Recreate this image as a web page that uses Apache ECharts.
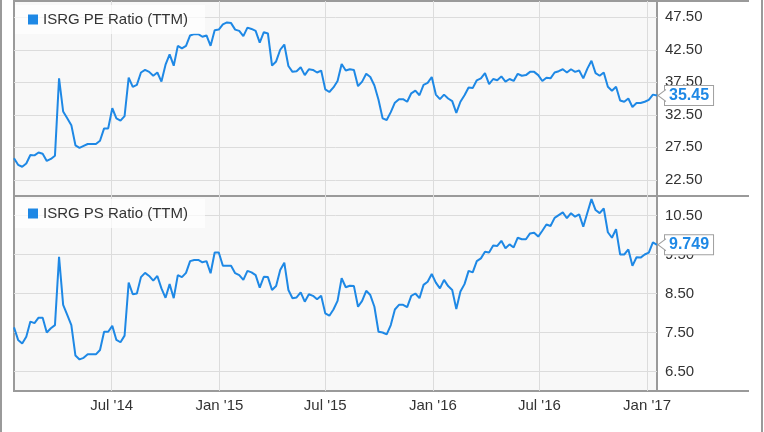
<!DOCTYPE html>
<html>
<head>
<meta charset="utf-8">
<script src="https://cdn.jsdelivr.net/npm/echarts@6/dist/echarts.min.js"></script>
<style>
html,body{margin:0;padding:0;background:#fff;}
#chart{width:764px;height:432px;}
</style>
</head>
<body>
<div id="chart"></div>
<script>
// ---- data ----
const seriesNames = ['ISRG PE Ratio (TTM)', 'ISRG PS Ratio (TTM)'];
const firstWeek = '2014-01-15';      // first weekly observation
const axisStart = '2014-01-15';
const axisEnd = '2017-01-18';
const xTickDates = ['2014-07-01', '2015-01-01', '2015-07-01', '2016-01-01', '2016-07-01', '2017-01-01'];
const peTicks = [22.5, 27.5, 32.5, 37.5, 42.5, 47.5];
const psTicks = [6.5, 7.5, 8.5, 9.5, 10.5];
const peRange = [20, 50];
const psRange = [6, 11];

const peRatio = [
  25.8, 24.8, 24.5, 25.0, 26.3, 26.25, 26.7, 26.5, 25.4, 25.7,
  26.2, 38.1, 33.0, 31.95, 30.9, 27.8, 27.4, 27.7, 28.0, 28.0,
  28.0, 28.5, 30.4, 30.4, 33.5, 31.95, 31.6, 32.3, 38.2, 36.8,
  37.1, 39.0, 39.4, 39.1, 38.5, 39.0, 37.6, 40.2, 41.8, 40.05,
  43.1, 42.7, 43.1, 44.7, 44.9, 44.9, 44.5, 44.7, 43.1, 45.5,
  45.6, 46.4, 46.7, 46.6, 45.6, 45.4, 44.6, 45.9, 45.7, 45.4,
  43.6,
  45.2, 45.0, 40.05, 40.7, 42.5, 43.3, 40.0, 39.1, 39.2, 39.8,
  38.6, 39.5, 39.4, 39.0, 39.3, 36.4, 36.0, 36.7, 37.7, 40.3,
  39.3, 39.5, 39.4, 36.9, 37.6, 38.8, 38.3, 37.0, 34.8, 31.95,
  31.7, 32.9, 34.35, 34.9, 34.9, 34.5, 35.8, 36.2, 35.5, 37.1,
  37.4, 38.3, 35.6, 34.9, 35.6, 35.0, 34.6, 32.8, 34.5, 35.5,
  36.7, 36.6, 37.8, 38.1, 38.9, 37.2, 38.0, 37.8, 38.4, 37.6,
  38.0,
  37.7, 38.8, 38.5, 38.6, 39.1, 39.1, 38.6, 37.7, 38.2, 38.1,
  39.0, 39.2, 39.5, 39.0, 39.5, 39.1, 39.3, 38.1, 39.6, 40.8,
  38.9, 38.5, 39.0, 36.8, 36.2, 36.8, 34.7, 34.5, 35.0, 33.7,
  34.3, 34.3, 34.5, 34.8, 35.6, 35.45
];

const psRatio = [
  7.63, 7.31, 7.22, 7.39, 7.78, 7.74, 7.88, 7.88, 7.50, 7.61,
  7.69, 9.44, 8.21, 7.95, 7.69, 6.91, 6.81, 6.85, 6.94, 6.94,
  6.94, 7.05, 7.52, 7.52, 7.67, 7.31, 7.25, 7.42, 8.78, 8.48,
  8.50, 8.92, 9.03, 8.95, 8.83, 8.95, 8.63, 8.39, 8.74, 8.38,
  8.97, 8.92, 9.03, 9.33, 9.36, 9.36, 9.30, 9.33, 9.02, 9.55,
  9.55, 9.21, 9.21, 9.21, 9.02, 8.97, 8.85, 9.08, 9.04, 8.97,
  8.65,
  8.93, 8.92, 8.59, 8.69, 9.10, 9.29, 8.59, 8.38, 8.40, 8.53,
  8.29, 8.48, 8.44, 8.35, 8.44, 7.99, 7.93, 8.09, 8.31, 8.89,
  8.66, 8.70, 8.69, 8.16, 8.31, 8.57, 8.46, 8.16, 7.52, 7.50,
  7.45, 7.69, 8.09, 8.21, 8.21, 8.15, 8.44, 8.50, 8.38, 8.72,
  8.80, 9.00, 8.78, 8.63, 8.85, 8.69, 8.59, 8.10, 8.55, 8.74,
  9.08, 9.04, 9.33, 9.40, 9.57, 9.55, 9.73, 9.72, 9.85, 9.66,
  9.76,
  9.68, 9.93, 9.89, 9.89, 10.04, 10.06, 9.96, 10.11, 10.27, 10.23,
  10.44, 10.51, 10.58, 10.43, 10.56, 10.47, 10.53, 10.21, 10.57, 10.92,
  10.64, 10.56, 10.68, 10.07, 9.93, 10.15, 9.50, 9.50, 9.63, 9.21,
  9.43, 9.42, 9.50, 9.55, 9.81, 9.749
];

// ---- helpers ----
function parseDay(s) { const p = s.split('-').map(Number); return new Date(p[0], p[1] - 1, p[2]).getTime(); }
const startTs = parseDay(firstWeek);
function weekDate(i) { const d = new Date(startTs); d.setDate(d.getDate() + 7 * i); return d.getTime(); }
const peData = peRatio.map((v, i) => [weekDate(i), v]);
const psData = psRatio.map((v, i) => [weekDate(i), v]);
const xTicks = xTickDates.map(parseDay);
const MONTHS = ['Jan','Feb','Mar','Apr','May','Jun','Jul','Aug','Sep','Oct','Nov','Dec'];
function fmtDate(v) { const d = new Date(v); return MONTHS[d.getMonth()] + " '" + String(d.getFullYear()).slice(2); }

const FONT = '"Liberation Sans", Arial, Helvetica, sans-serif';
const BLUE = '#1e88e5';
const GRIDC = '#dcdcdc';
const FRAME = '#9a9a9a';

function xAxisFor(idx, showLabels) {
  return {
    type: 'value', gridIndex: idx, min: parseDay(axisStart), max: parseDay(axisEnd),
    axisLine: { show: false },
    axisTick: { show: false, customValues: xTicks },
    axisLabel: { show: showLabels, customValues: xTicks, formatter: fmtDate, color: '#333', fontSize: 15, fontFamily: FONT, margin: 7 },
    splitLine: { show: true, lineStyle: { color: GRIDC, width: 1 } }
  };
}
function yAxisFor(idx, range, ticks, digits) {
  return {
    type: 'value', gridIndex: idx, position: 'right', min: range[0], max: range[1],
    axisLine: { show: false },
    axisTick: { show: false, customValues: ticks },
    axisLabel: { customValues: ticks, formatter: v => v.toFixed(digits), color: '#333', fontSize: 15, fontFamily: FONT, margin: 8 },
    splitLine: { show: true, lineStyle: { color: GRIDC, width: 1 } }
  };
}
function lineSeries(name, data, idx, lastText) {
  const last = data[data.length - 1];
  return {
    name: name, type: 'line', xAxisIndex: idx, yAxisIndex: idx, data: data,
    showSymbol: false, symbol: 'none',
    lineStyle: { color: BLUE, width: 2 }, itemStyle: { color: BLUE },
    endLabel: {
      show: true, formatter: () => lastText, color: BLUE, fontWeight: 'bold', fontSize: 16, fontFamily: FONT,
      backgroundColor: '#fff', borderColor: '#a0a0a0', borderWidth: 1, padding: [2, 4, 1, 4], distance: 8
    },
    markPoint: {
      silent: true, animation: false,
      symbol: 'path://M10,0 L0,6 L10,12', symbolSize: [8, 12], symbolOffset: [5, 0], symbolKeepAspect: false,
      itemStyle: { color: '#fff', borderColor: '#a0a0a0', borderWidth: 1 },
      label: { show: false },
      data: [{ coord: last }]
    }
  };
}
function legendFor(name, top) {
  return {
    data: [name], left: 15, top: top, orient: 'horizontal', selectedMode: false,
    icon: 'rect', itemWidth: 10, itemHeight: 10,
    backgroundColor: 'rgba(255,255,255,0.7)', padding: [7, 17, 7, 13],
    textStyle: { color: '#333', fontSize: 15, fontFamily: FONT }
  };
}

const chart = echarts.init(document.getElementById('chart'), null, { renderer: 'canvas' });
chart.setOption({
  animation: false,
  backgroundColor: '#fff',
  grid: [
    { left: 14, top: 1, width: 643, height: 195, show: true, backgroundColor: '#f8f8f8', borderColor: FRAME, borderWidth: 2 },
    { left: 14, top: 196, width: 643, height: 195, show: true, backgroundColor: '#f8f8f8', borderColor: FRAME, borderWidth: 2 }
  ],
  xAxis: [xAxisFor(0, false), xAxisFor(1, true)],
  yAxis: [yAxisFor(0, peRange, peTicks, 2), yAxisFor(1, psRange, psTicks, 2)],
  legend: [legendFor(seriesNames[0], 5), legendFor(seriesNames[1], 199)],
  series: [
    lineSeries(seriesNames[0], peData, 0, peRatio[peRatio.length - 1].toFixed(2)),
    lineSeries(seriesNames[1], psData, 1, psRatio[psRatio.length - 1].toFixed(3))
  ],
  graphic: [
    { type: 'rect', silent: true, shape: { x: 0, y: 0, width: 2, height: 432 }, style: { fill: FRAME } },
    { type: 'rect', silent: true, shape: { x: 761, y: 0, width: 2, height: 432 }, style: { fill: FRAME } },
    { type: 'line', silent: true, shape: { x1: 657, y1: 1, x2: 749, y2: 1 }, style: { stroke: FRAME, lineWidth: 2 } },
    { type: 'line', silent: true, shape: { x1: 657, y1: 196, x2: 749, y2: 196 }, style: { stroke: FRAME, lineWidth: 2 } },
    { type: 'line', silent: true, shape: { x1: 657, y1: 391, x2: 749, y2: 391 }, style: { stroke: FRAME, lineWidth: 2 } }
  ]
});
</script>
</body>
</html>
